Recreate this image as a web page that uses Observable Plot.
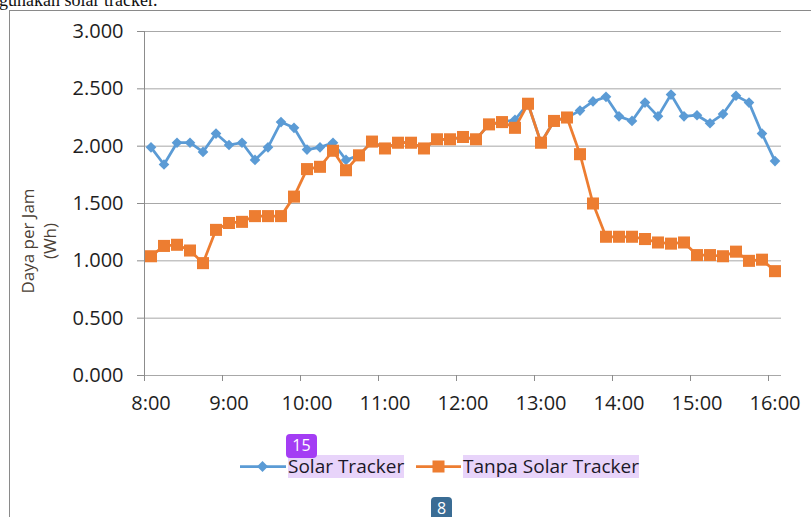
<!DOCTYPE html>
<html>
<head>
<meta charset="utf-8">
<script src="https://cdn.jsdelivr.net/npm/d3@7"></script>
<script src="https://cdn.jsdelivr.net/npm/@observablehq/plot@0.6"></script>
<style>
  html, body { margin: 0; padding: 0; background: #fff; }
  #page { position: relative; width: 811px; height: 517px; overflow: hidden; background: #fff; font-family: "Open Sans", sans-serif; }
  #doctext { position: absolute; left: -1px; top: -9px; font: 18px "Liberation Serif", serif; line-height: 18px; color: #111; white-space: nowrap; }
  #frameLeft { position: absolute; left: 9px; top: 10px; width: 1px; height: 520px; background: #8a8a8a; }
  #frameTop { position: absolute; left: 9px; top: 10px; width: 810px; height: 1px; background: #8a8a8a; }
  #chart { position: absolute; left: 0; top: 0; }
  #ytitle { position: absolute; left: 39px; top: 241px; transform: translate(-50%, -50%) rotate(-90deg); text-align: center; font-size: 17px; line-height: 22px; color: #4a4036; white-space: nowrap; }
  .leg { position: absolute; top: 455px; height: 23px; line-height: 23px; font-size: 19px; color: #1c1828; background: #e8d4fa; white-space: nowrap; }
  .sw { position: absolute; top: 456px; }
  .badge { position: absolute; color: #fff; font-size: 16px; text-align: center; border-radius: 4px; line-height: 23px; }
</style>
</head>
<body>
<div id="page">
  <div id="doctext">gunakan solar tracker.</div>
  <div id="frameLeft"></div>
  <div id="frameTop"></div>
  <div id="chart"></div>
  <div id="ytitle">Daya per Jam<br>(Wh)</div>
  <svg class="sw" style="left:240px" width="46" height="21"><line x1="0" y1="10.5" x2="46" y2="10.5" stroke="#5B9BD5" stroke-width="2.75"/><path d="M22.5,5 L28,10.5 L22.5,16 L17,10.5 Z" fill="#5B9BD5"/></svg>
  <div class="leg" style="left:288px">Solar Tracker</div>
  <svg class="sw" style="left:416px" width="45" height="21"><line x1="0" y1="10.5" x2="45" y2="10.5" stroke="#ED7D31" stroke-width="2.75"/><rect x="16.5" y="4.5" width="12" height="12" fill="#ED7D31"/></svg>
  <div class="leg" style="left:463px">Tanpa Solar Tracker</div>
  <div class="badge" style="left:286px; top:434px; width:31px; height:24px; background:#a43df4;">15</div>
  <div class="badge" style="left:431px; top:497px; width:21px; height:25px; background:#3a6c94;">8</div>
</div>
<script>
// Categories: time of measurement
const times = [
  "8:00","8:10","8:20","8:30","8:40","8:50",
  "9:00","9:10","9:20","9:30","9:40","9:50",
  "10:00","10:10","10:20","10:30","10:40","10:50",
  "11:00","11:10","11:20","11:30","11:40","11:50",
  "12:00","12:10","12:20","12:30","12:40","12:50",
  "13:00","13:10","13:20","13:30","13:40","13:50",
  "14:00","14:10","14:20","14:30","14:40","14:50",
  "15:00","15:10","15:20","15:30","15:40","15:50",
  "16:00"
];
// Series: Solar Tracker
const solarTracker = [
  1.99, 1.84, 2.03, 2.03, 1.95, 2.11,
  2.01, 2.03, 1.88, 1.99, 2.21, 2.16,
  1.97, 1.99, 2.03, 1.88, 1.92, 2.04,
  1.98, 2.03, 2.03, 1.98, 2.06, 2.06,
  2.08, 2.06, 2.19, 2.21, 2.23, 2.37,
  2.03, 2.22, 2.25, 2.31, 2.39, 2.43,
  2.26, 2.22, 2.38, 2.26, 2.45, 2.26,
  2.27, 2.20, 2.28, 2.44, 2.38, 2.11,
  1.87
];
// Series: Tanpa Solar Tracker
const tanpaSolarTracker = [
  1.04, 1.13, 1.14, 1.09, 0.98, 1.27,
  1.33, 1.34, 1.39, 1.39, 1.39, 1.56,
  1.80, 1.82, 1.96, 1.79, 1.92, 2.04,
  1.98, 2.03, 2.03, 1.98, 2.06, 2.06,
  2.08, 2.06, 2.19, 2.21, 2.16, 2.37,
  2.03, 2.22, 2.25, 1.93, 1.50, 1.21,
  1.21, 1.21, 1.19, 1.16, 1.15, 1.16,
  1.05, 1.05, 1.04, 1.08, 1.00, 1.01,
  0.91
];
// Tick labels
const xTickLabels = ["8:00","9:00","10:00","11:00","12:00","13:00","14:00","15:00","16:00"];
const yTicks = [0, 0.5, 1, 1.5, 2, 2.5, 3];

const toMin = s => { const [h, m] = s.split(":").map(Number); return (h - 8) * 60 + m; };
const data = times.map((t, i) => ({t: toMin(t), solar: solarTracker[i], tanpa: tanpaSolarTracker[i]}));
const step = data[1].t - data[0].t;
const xDomain = [data[0].t - step / 2, data[data.length - 1].t + step / 2];
const labelPos = xTickLabels.map(toMin);
const boundaries = labelPos.map(v => v - step / 2);

const chart = Plot.plot({
  width: 811,
  height: 420,
  marginLeft: 144,
  marginRight: 30,
  marginTop: 31,
  marginBottom: 45,
  x: {type: "linear", domain: xDomain},
  y: {domain: [0, 3]},
  style: {fontFamily: "Open Sans", fontSize: "20px", color: "#1e1e1e", background: "transparent", overflow: "visible"},
  marks: [
    Plot.gridY(yTicks, {stroke: "#a8a8a8", strokeOpacity: 1, strokeWidth: 1}),
    Plot.ruleX([xDomain[0]], {stroke: "#8c8c8c", strokeWidth: 1}),
    Plot.axisY(yTicks, {tickSize: 7, tickPadding: 14, tickFormat: d3.format(".3f"), stroke: "#8c8c8c", label: null}),
    Plot.axisX(boundaries, {tickSize: 6, tickFormat: () => "", stroke: "#8c8c8c", label: null}),
    Plot.axisX(labelPos, {tickSize: 0, tickPadding: 20, tickFormat: (d) => xTickLabels[labelPos.indexOf(d)], label: null}),
    Plot.line(data, {x: "t", y: "solar", stroke: "#5B9BD5", strokeWidth: 2.75}),
    Plot.dot(data, {x: "t", y: "solar", symbol: "diamond2", r: 4.8, fill: "#5B9BD5", stroke: null}),
    Plot.line(data, {x: "t", y: "tanpa", stroke: "#ED7D31", strokeWidth: 2.75}),
    Plot.dot(data, {x: "t", y: "tanpa", symbol: "square", r: 6.8, fill: "#ED7D31", stroke: null})
  ]
});
document.getElementById("chart").appendChild(chart);
</script>
</body>
</html>
